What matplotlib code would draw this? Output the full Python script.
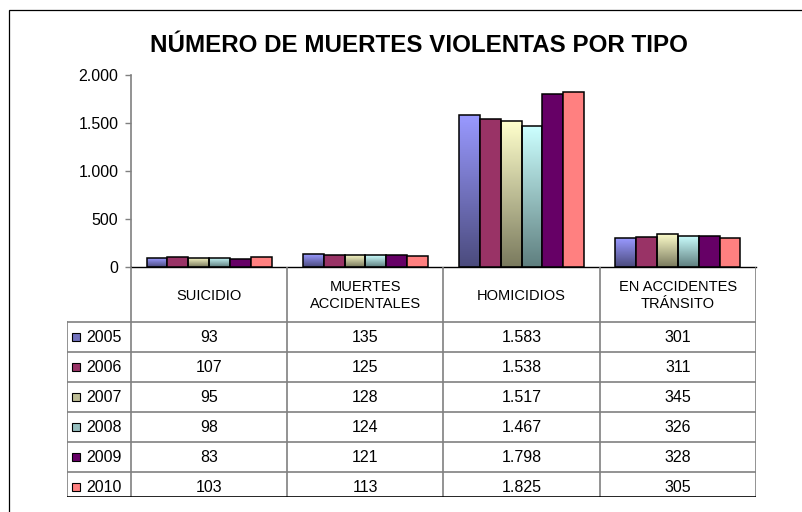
import numpy as np
import matplotlib.pyplot as plt
from matplotlib.patches import Rectangle
from matplotlib.lines import Line2D
from matplotlib.colors import to_rgb
from matplotlib.ticker import FuncFormatter

plt.rcParams['font.family'] = ['Liberation Sans', 'DejaVu Sans']

categorias = ["SUICIDIO", "MUERTES\nACCIDENTALES", "HOMICIDIOS", "EN ACCIDENTES\nTRÁNSITO"]
anios = ["2005", "2006", "2007", "2008", "2009", "2010"]
v2005 = [93, 135, 1583, 301]
v2006 = [107, 125, 1538, 311]
v2007 = [95, 128, 1517, 345]
v2008 = [98, 124, 1467, 326]
v2009 = [83, 121, 1798, 328]
v2010 = [103, 113, 1825, 305]
series = [v2005, v2006, v2007, v2008, v2009, v2010]

# (color arriba, color abajo); None = relleno liso
colores = [("#9999FF", "#4B4B7D"), ("#993366", None), ("#FFFFCC", "#7A7A5E"),
           ("#CCFFFF", "#5F7F7F"), ("#660066", None), ("#FF8080", None)]

W, H = 803, 512
FS = 11.5


def fmt(v):
    return f"{v:,.0f}".replace(",", ".")


def fx(px):
    return px / W


def fy(py):
    return 1 - py / H


fig = plt.figure(figsize=(W / 100, H / 100), dpi=100)

# marco exterior
fig.add_artist(Rectangle((fx(9), fy(520)), fx(820), 510 / H, transform=fig.transFigure,
                         fill=False, edgecolor="black", linewidth=0.9))

fig.text(fx(419), fy(45), "NÚMERO DE MUERTES VIOLENTAS POR TIPO", ha="center", va="center",
         fontsize=17.4, fontweight="bold")

x0, x1, ytop, ybot = 131, 756, 75, 267
ax = fig.add_axes([fx(x0), fy(ybot), fx(x1 - x0), (ybot - ytop) / H])
n = len(series)
bw = 0.8 / n
x = np.arange(len(categorias))
for i, (vals, (c_top, c_bot)) in enumerate(zip(series, colores)):
    pos = x - 0.4 + bw * (i + 0.5)
    bars = ax.bar(pos, vals, width=bw, color=c_top, edgecolor="black", linewidth=1.1, zorder=3)
    if c_bot is not None:
        grad = np.linspace(0, 1, 100)[:, None, None]
        img = (1 - grad) * np.array(to_rgb(c_top)) + grad * np.array(to_rgb(c_bot))
        for b in bars:
            bx, by = b.get_x(), b.get_height()
            b.set_facecolor("none")
            im = ax.imshow(img, extent=(bx, bx + b.get_width(), 0, by), aspect="auto",
                           origin="upper", zorder=2, interpolation="bilinear")
            im.set_clip_path(b)

ax.set_xlim(-0.5, len(categorias) - 0.5)
ax.set_ylim(0, 2000)
ax.set_yticks([0, 500, 1000, 1500, 2000])
ax.yaxis.set_major_formatter(FuncFormatter(lambda v, p: fmt(v)))
ax.tick_params(axis="y", length=4, width=1, color="#808080", labelsize=FS, pad=5)
ax.set_xticks([])
for s in ["top", "right"]:
    ax.spines[s].set_visible(False)
ax.spines["left"].set_color("#808080")
ax.spines["left"].set_linewidth(1.2)
ax.spines["bottom"].set_color("black")
ax.spines["bottom"].set_linewidth(1.0)
ax.patch.set_alpha(0)

# tabla de datos
tl, tr, tt, tb = 67, 756, 267, 497
tax = fig.add_axes([fx(tl), fy(tb), fx(tr - tl), (tb - tt) / H])
tax.set_xlim(tl, tr)
tax.set_ylim(tb, tt)
tax.axis("off")
col_w = (x1 - x0) / len(categorias)
hdr = 322
row_h = 30
gris = "#808080"
# lineas verticales
for j in range(len(categorias) + 1):
    xx = x0 + j * col_w
    tax.add_line(Line2D([xx, xx], [tt, tb], color=gris, lw=1.2))
tax.add_line(Line2D([tl, tl], [hdr, tb], color=gris, lw=1.2))
# lineas horizontales
for r in range(len(anios)):
    yy = hdr + r * row_h
    tax.add_line(Line2D([tl, tr], [yy, yy], color=gris, lw=1.2))
tax.add_line(Line2D([tl, tr], [tb, tb], color="black", lw=1.2))

for j, cat in enumerate(categorias):
    tax.text(x0 + (j + 0.5) * col_w, (tt + hdr) / 2 + 1, cat, ha="center", va="center",
             fontsize=10.5, linespacing=1.35)

for r, (anio, vals, (c_top, c_bot)) in enumerate(zip(anios, series, colores)):
    yc = hdr + (r + 0.5) * row_h
    if c_bot is None:
        kc = c_top
    else:
        kc = tuple((np.array(to_rgb(c_top)) + np.array(to_rgb(c_bot))) / 2)
    tax.add_patch(Rectangle((72, yc - 4), 8, 8, facecolor=kc, edgecolor="black", lw=0.8,
                            clip_on=False))
    tax.text(86, yc, anio, ha="left", va="center", fontsize=FS)
    for j, v in enumerate(vals):
        tax.text(x0 + (j + 0.5) * col_w, yc, fmt(v), ha="center", va="center", fontsize=FS)

fig.savefig("out.png", dpi=100)
